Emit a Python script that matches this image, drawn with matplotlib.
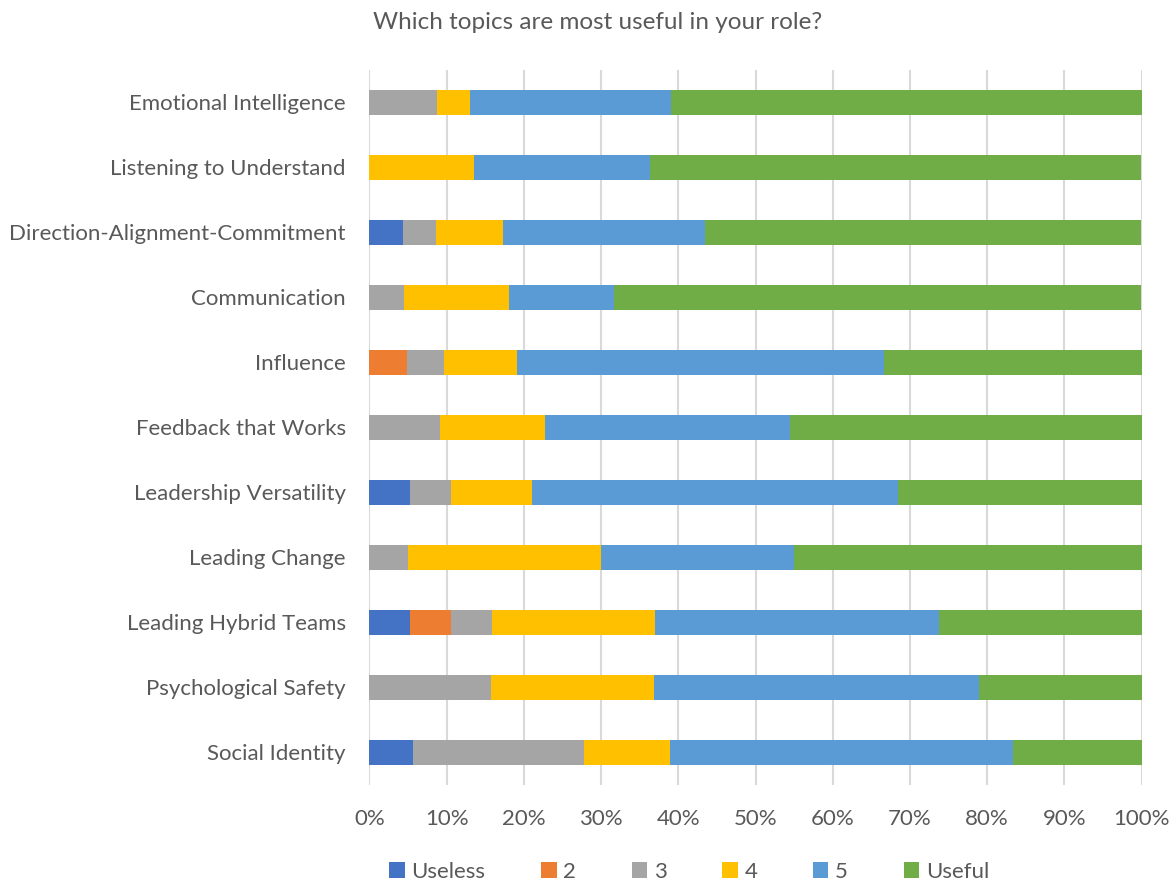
import matplotlib.pyplot as plt
import numpy as np

# topics, top to bottom as shown
topics = ["Emotional Intelligence", "Listening to Understand",
          "Direction-Alignment-Commitment", "Communication", "Influence",
          "Feedback that Works", "Leadership Versatility", "Leading Change",
          "Leading Hybrid Teams", "Psychological Safety", "Social Identity"]

# share of answers (%) per rating, same order as topics
useless = [0, 0, 4.3, 0, 0, 0, 5.3, 0, 5.3, 0, 5.6]
two = [0, 0, 0, 0, 4.8, 0, 0, 0, 5.3, 0, 0]
three = [8.7, 0, 4.3, 4.5, 4.8, 9.1, 5.3, 5.0, 5.3, 15.8, 22.2]
four = [4.3, 13.6, 8.7, 13.6, 9.5, 13.6, 10.5, 25.0, 21.1, 21.1, 11.1]
five = [26.1, 22.7, 26.1, 13.6, 47.6, 31.8, 47.4, 25.0, 36.8, 42.1, 44.4]
useful = [60.9, 63.6, 56.5, 68.2, 33.3, 45.5, 31.6, 45.0, 26.3, 21.1, 16.7]

series = [("Useless", useless, "#4472C4"), ("2", two, "#ED7D31"),
          ("3", three, "#A5A5A5"), ("4", four, "#FFC000"),
          ("5", five, "#5B9BD5"), ("Useful", useful, "#70AD47")]

plt.rcParams['font.family'] = ['Lato', 'DejaVu Sans']
txt = "#595959"

fig = plt.figure(figsize=(11.76, 8.84), dpi=100)
ax = fig.add_axes([0.3142, 0.112, 0.6565, 0.809])

y = np.arange(len(topics))
left = np.zeros(len(topics))
for name, vals, col in series:
    vals = np.array(vals, dtype=float)
    ax.barh(y, vals, left=left, height=0.385, color=col, label=name, zorder=3)
    left += vals

ax.set_xlim(0, 100)
ax.set_ylim(len(topics) - 0.5, -0.5)
ax.set_xticks(np.arange(0, 101, 10))
ax.set_xticklabels([f"{v}%" for v in range(0, 101, 10)])
ax.set_yticks(y)
ax.set_yticklabels(topics)
ax.tick_params(axis='both', length=0, labelsize=16, colors=txt)
ax.tick_params(axis='y', pad=17)
ax.tick_params(axis='x', pad=17)
ax.grid(axis='x', color="#D9D9D9", linewidth=1.5, zorder=0)
for s in ax.spines.values():
    s.set_visible(False)

fig.text(0.508, 0.975, "Which topics are most useful in your role?",
         ha='center', va='center', fontsize=17.5, color=txt)

fig.legend(loc='center', bbox_to_anchor=(0.586, 0.014), ncol=6, frameon=False,
           fontsize=16, labelcolor=txt, handlelength=0.7, handleheight=0.7,
           handletextpad=0.3, columnspacing=2.5)

plt.savefig("out.png", dpi=100)
